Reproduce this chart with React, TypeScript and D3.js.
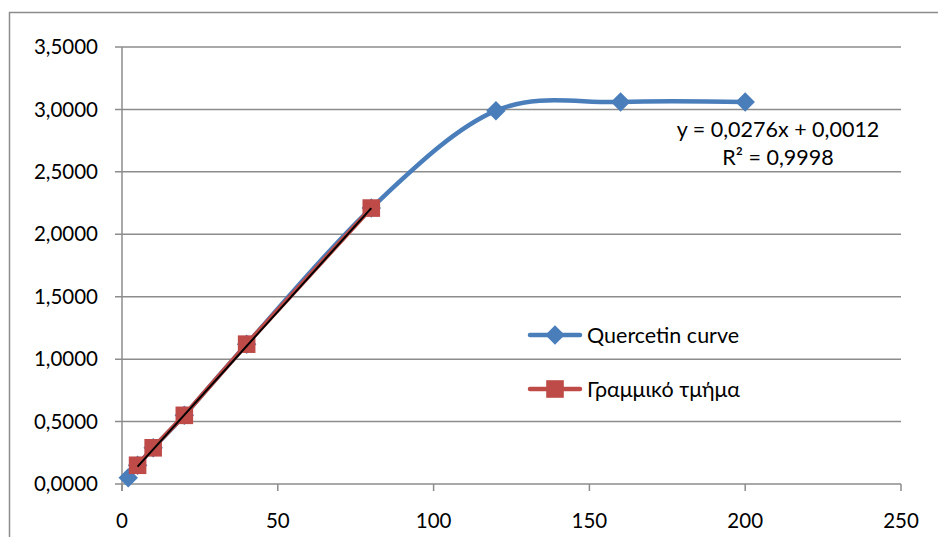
import { useEffect, useRef } from 'react'
import * as d3 from 'd3'

// Quercetin calibration points (concentration, absorbance)
const curveX = [2, 5, 10, 20, 40, 80, 120, 160, 200]
const curveY = [0.05, 0.15, 0.29, 0.55, 1.12, 2.21, 2.99, 3.06, 3.06]

// linear part
const linX = [5, 10, 20, 40, 80]
const linY = [0.15, 0.29, 0.55, 1.12, 2.21]

const slope = 0.0276
const intercept = 0.0012
const trendLabel = 'y = 0,0276x + 0,0012'
const r2Label = 'R² = 0,9998'

const xTicks = [0, 50, 100, 150, 200, 250]
const yTicks = [0, 0.5, 1, 1.5, 2, 2.5, 3, 3.5]

const seriesNames = ['Quercetin curve', 'Γραμμικό τμήμα']

const App = () => {
  const chart = useRef<SVGSVGElement>(null)

  useEffect(() => {
    document.body.style.margin = '0'
    const w = 938
    const h = 537
    const svg = d3.select(chart.current)
    svg.selectAll('*').remove()
    svg.attr('width', w).attr('height', h).style('display', 'block')
      .style('font-family', 'Lato, "Open Sans", sans-serif')

    const blue = '#4a7ebb'
    const red = '#be4b48'
    const grid = '#8c8c8c'

    // outer chart border
    svg.append('rect')
      .attr('x', 9.5).attr('y', 12.5)
      .attr('width', 940).attr('height', 540)
      .attr('fill', 'white').attr('stroke', grid).attr('stroke-width', 1.5)

    const x = d3.scaleLinear().domain([0, 250]).range([122, 901])
    const y = d3.scaleLinear().domain([0, 3.5]).range([484, 47])

    // horizontal gridlines + left tick stubs
    svg.append('g').selectAll('line').data(yTicks).enter().append('line')
      .attr('x1', x(0) - 7).attr('x2', x(250))
      .attr('y1', d => y(d)).attr('y2', d => y(d))
      .attr('stroke', grid).attr('stroke-width', 1.5)

    // y axis line
    svg.append('line')
      .attr('x1', x(0)).attr('x2', x(0))
      .attr('y1', y(3.5)).attr('y2', y(0) + 7)
      .attr('stroke', grid).attr('stroke-width', 1.5)

    // x tick marks
    svg.append('g').selectAll('line').data(xTicks).enter().append('line')
      .attr('x1', d => x(d)).attr('x2', d => x(d))
      .attr('y1', y(0)).attr('y2', y(0) + 7)
      .attr('stroke', grid).attr('stroke-width', 1.5)

    // tick labels
    svg.append('g').selectAll('text').data(yTicks).enter().append('text')
      .attr('x', 98).attr('y', d => y(d))
      .attr('dy', '0.35em')
      .attr('text-anchor', 'end')
      .attr('font-size', 20.5)
      .attr('fill', '#000')
      .text(d => d3.format('.4f')(d).replace('.', ','))

    svg.append('g').selectAll('text').data(xTicks).enter().append('text')
      .attr('x', d => x(d)).attr('y', 528)
      .attr('text-anchor', 'middle')
      .attr('font-size', 20.5)
      .attr('fill', '#000')
      .text(d => d)

    const curvePts: [number, number][] = curveX.map((v, i) => [v, curveY[i]])
    const linPts: [number, number][] = linX.map((v, i) => [v, linY[i]])

    // smooth blue curve
    const smooth = d3.line<[number, number]>()
      .x(d => x(d[0])).y(d => y(d[1]))
      .curve(d3.curveCardinal.tension(0))
    svg.append('path').datum(curvePts)
      .attr('d', smooth)
      .attr('fill', 'none').attr('stroke', blue).attr('stroke-width', 4.5)

    const diamond = d3.symbol().type(d3.symbolSquare).size(190)
    svg.append('g').selectAll('path').data(curvePts).enter().append('path')
      .attr('d', diamond)
      .attr('transform', d => `translate(${x(d[0])},${y(d[1])}) rotate(45)`)
      .attr('fill', blue)

    // red straight segment
    const straight = d3.line<[number, number]>()
      .x(d => x(d[0])).y(d => y(d[1]))
    svg.append('path').datum(linPts)
      .attr('d', straight)
      .attr('fill', 'none').attr('stroke', red).attr('stroke-width', 4.5)

    const square = d3.symbol().type(d3.symbolSquare).size(310)
    svg.append('g').selectAll('path').data(linPts).enter().append('path')
      .attr('d', square)
      .attr('transform', d => `translate(${x(d[0])},${y(d[1])})`)
      .attr('fill', red)

    // linear trendline over the linear part
    const x0 = d3.min(linX) as number
    const x1 = d3.max(linX) as number
    svg.append('line')
      .attr('x1', x(x0)).attr('y1', y(slope * x0 + intercept))
      .attr('x2', x(x1)).attr('y2', y(slope * x1 + intercept))
      .attr('stroke', '#000').attr('stroke-width', 2)

    // trendline equation
    svg.append('text').attr('x', 778).attr('y', 137)
      .attr('text-anchor', 'middle').attr('font-size', 21.5).text(trendLabel)
    svg.append('text').attr('x', 778).attr('y', 165)
      .attr('text-anchor', 'middle').attr('font-size', 21.5).text(r2Label)

    // legend
    const legend = svg.append('g')
    const colors = [blue, red]
    seriesNames.forEach((name, i) => {
      const ly = 335 + i * 54
      legend.append('line')
        .attr('x1', 530).attr('x2', 580).attr('y1', ly).attr('y2', ly)
        .attr('stroke', colors[i]).attr('stroke-width', 4.5)
        .attr('stroke-linecap', 'round')
      legend.append('path')
        .attr('d', i === 0 ? diamond() : square())
        .attr('transform', `translate(555,${ly})${i === 0 ? ' rotate(45)' : ''}`)
        .attr('fill', colors[i])
      legend.append('text')
        .attr('x', 587).attr('y', ly).attr('dy', '0.35em')
        .attr('font-size', 21.5).text(name)
    })
  }, [])

  return (
    <div id="chart">
      <svg ref={chart}></svg>
    </div>
  )
}

export default App
